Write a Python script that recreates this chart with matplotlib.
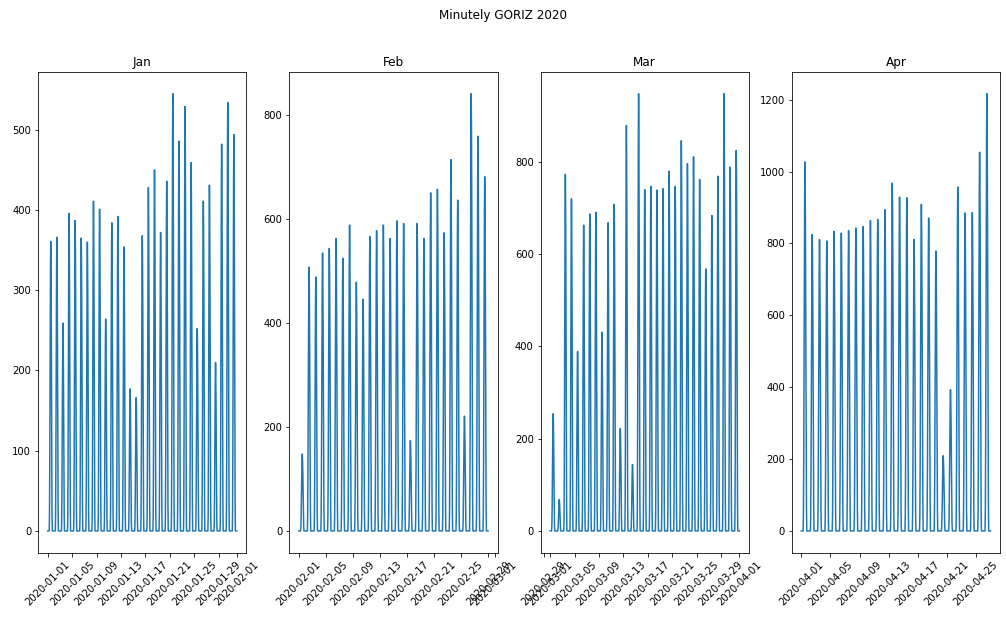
import matplotlib.pyplot as plt
import matplotlib.dates as mdates
import numpy as np
import pandas as pd

## pics journaliers (valeur max de chaque jour)
jan_peaks = [361, 366, 259, 396, 387, 365, 360, 411, 401, 264, 384, 392, 354, 177, 166, 368,
             428, 450, 372, 436, 545, 486, 529, 459, 252, 411, 431, 210, 482, 534, 494]
feb_peaks = [148, 508, 489, 535, 544, 563, 525, 589, 479, 446, 567, 578, 589, 563, 597, 592,
             174, 592, 563, 651, 658, 574, 715, 637, 221, 842, 760, 682]
mar_peaks = [254, 68, 773, 720, 389, 663, 687, 691, 431, 668, 708, 222, 879, 144, 948, 740,
             747, 739, 742, 780, 747, 846, 796, 811, 762, 568, 684, 769, 948, 789, 825]
apr_peaks = [1027, 825, 811, 807, 834, 829, 836, 843, 847, 864, 867, 894, 968, 929, 927, 811,
             909, 871, 779, 209, 393, 957, 885, 886, 1054, 1217]

months = ['Jan', 'Feb', 'Mar', 'Apr']
month_starts = ['2020-01-01', '2020-02-01', '2020-03-01', '2020-04-01']
all_peaks = [jan_peaks, feb_peaks, mar_peaks, apr_peaks]

## forme d'une journee type : heure, fraction du pic
profile_hours = [0, 6, 7, 8, 9, 10, 11, 12, 13, 14, 15, 16, 17, 18, 23.98]
profile_frac = [0, 0, 0.05, 0.2, 0.45, 0.7, 0.9, 1.0, 0.92, 0.75, 0.5, 0.25, 0.07, 0, 0]

fig = plt.figure(figsize=(1006 / 72, 619 / 72), dpi=72)
axes = fig.subplots(1, 4)
fig.subplots_adjust(left=0.038, right=0.994, top=0.884, bottom=0.107, wspace=0.207)

for ax, name, start, peaks in zip(axes, months, month_starts, all_peaks):
    times = []
    values = []
    for i, p in enumerate(peaks):
        day = pd.Timestamp(start) + pd.Timedelta(days=i)
        for h, f in zip(profile_hours, profile_frac):
            times.append(day + pd.Timedelta(hours=h))
            values.append(p * f)
    ax.plot(pd.to_datetime(times), values, color='C0')
    ax.set_title(name)
    ax.xaxis.set_major_locator(mdates.DayLocator(bymonthday=[1, 5, 9, 13, 17, 21, 25, 29]))
    ax.xaxis.set_major_formatter(mdates.DateFormatter('%Y-%m-%d'))
    for lab in ax.get_xticklabels():
        lab.set_rotation(45)

fig.suptitle('Minutely GORIZ 2020', y=0.985)
fig.savefig('out.png', dpi=72)
